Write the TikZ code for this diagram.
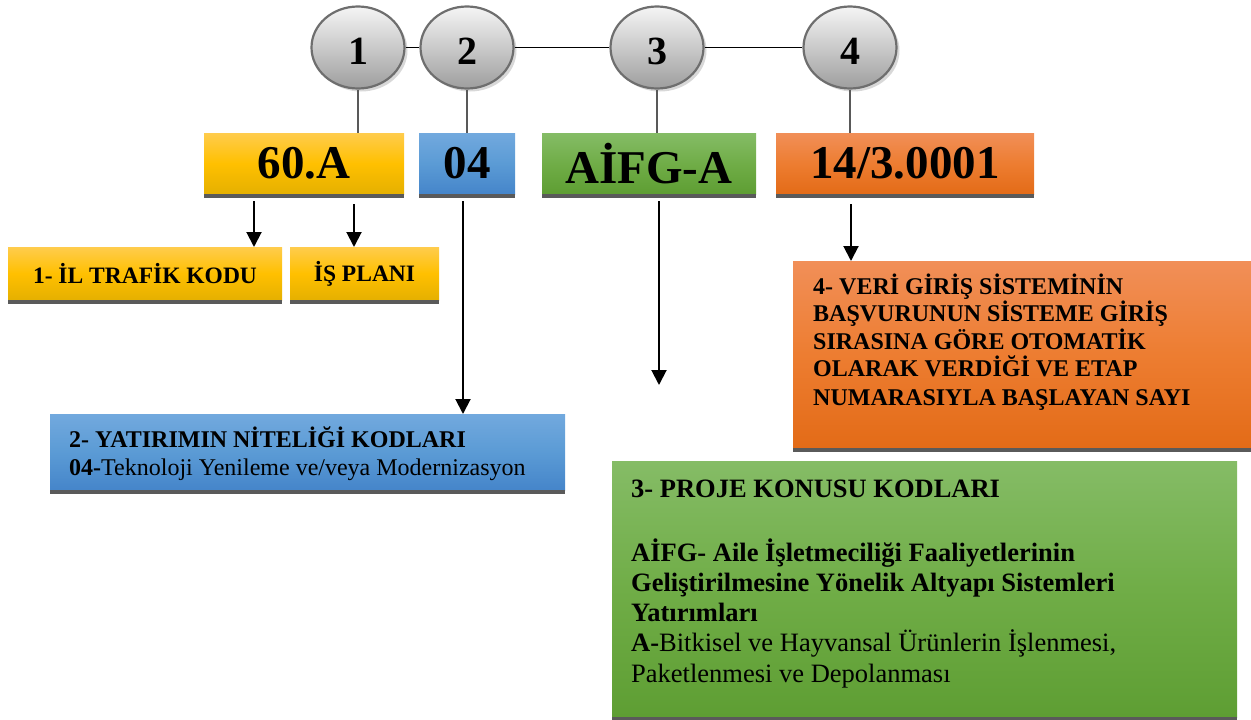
\documentclass[tikz,border=0pt]{standalone}
\usepackage{fontspec}
\setmainfont{Liberation Serif}
\usetikzlibrary{shapes.geometric,arrows.meta,shadows}
\definecolor{ytop}{HTML}{FFCC4D}
\definecolor{ymid}{HTML}{FFC000}
\definecolor{ybot}{HTML}{E5B000}
\definecolor{btop}{HTML}{72A9DE}
\definecolor{bmid}{HTML}{5B9BD5}
\definecolor{bbot}{HTML}{4585CA}
\definecolor{gtop}{HTML}{85BC66}
\definecolor{gmid}{HTML}{70AD47}
\definecolor{gbot}{HTML}{5E9E33}
\definecolor{otop}{HTML}{F18F58}
\definecolor{omid}{HTML}{ED7D31}
\definecolor{obot}{HTML}{E36B17}
\definecolor{shadowc}{HTML}{5A5A5A}
\definecolor{circb}{HTML}{6E6E6E}
\definecolor{vline}{HTML}{595959}
\newcommand\bigf{\fontsize{47}{50}\selectfont\bfseries}
\newcommand\midf{\fontsize{23.5}{27}\selectfont\bfseries}
\newcommand\orf{\fontsize{24}{27.5}\selectfont\bfseries}
\newcommand\grf{\fontsize{26.5}{30.5}\selectfont}
\newcommand\digf{\fontsize{40}{44}\selectfont\bfseries}
\tikzset{
  fbox/.style={rectangle, anchor=north west, inner sep=0pt, outer sep=0pt},
  yshd/.style={top color=ytop, bottom color=ybot, middle color=ymid},
  bshd/.style={top color=btop, bottom color=bbot, middle color=bmid},
  gshd/.style={top color=gtop, bottom color=gbot, middle color=gmid},
  oshd/.style={top color=otop, bottom color=obot, middle color=omid},
  num/.style={ellipse, minimum width=93pt, minimum height=82pt, inner sep=0pt,
    draw=circb, line width=2.2pt, top color=white!96!black, bottom color=black!38,
    font=\digf, text height=34pt, text depth=0pt,
    drop shadow={shadow xshift=3pt, shadow yshift=-3pt, fill=black!30, opacity=.5}},
  txt/.style={anchor=base west, inner sep=0pt},
  arr/.style={line width=2pt, -{Triangle[length=15pt,width=15pt]}},
  hline/.style={line width=1.2pt, black},
  vl/.style={line width=1.8pt, vline}
}
\begin{document}
\begin{tikzpicture}[x=1pt,y=-1pt]
\useasboundingbox (0,0) rectangle (1251,720);

% circles
\node[num] (c1) at (358,47.5) {1};
\node[num] (c2) at (467,47.5) {2};
\node[num] (c3) at (657,47.5) {3};
\node[num] (c4) at (850,47.5) {4};
\draw[hline] (c1) -- (c2);
\draw[hline] (c2) -- (c3);
\draw[hline] (c3) -- (c4);

% first row boxes
\node[fbox, yshd, minimum width=200pt, minimum height=61pt, font=\bigf] (b1) at (204,133) {60.A};
\node[fbox, bshd, minimum width=96pt, minimum height=61pt, font=\bigf] (b2) at (419,133) {04};
\node[fbox, gshd, minimum width=214pt, minimum height=61pt, font=\bigf] (b3) at (542,133) {AİFG-A};
\node[fbox, oshd, minimum width=258pt, minimum height=61pt, font=\bigf] (b4) at (776,133) {14/3.0001};

\draw[vl] (c1.south) -- (c1.south |- b1.north);
\draw[vl] (c2.south) -- (c2.south |- b2.north);
\draw[vl] (c3.south) -- (c3.south |- b3.north);
\draw[vl] (c4.south) -- (c4.south |- b4.north);

% second row boxes
\node[fbox, yshd, minimum width=274pt, minimum height=53pt, font=\midf] (l1) at (8,247) {1- İL TRAFİK KODU};
\node[fbox, yshd, minimum width=149pt, minimum height=53pt, font=\midf] (l2) at (290,247) {İŞ PLANI};
\node[fbox, bshd, minimum width=515pt, minimum height=76pt] (l3) at (50,414) {};
\node[fbox, oshd, minimum width=458pt, minimum height=187pt] (l4) at (793,261) {};
\node[fbox, gshd, minimum width=625pt, minimum height=256pt] (l5) at (612,461) {};

% shadows under boxes
\foreach \n in {b1,b2,b3,b4,l1,l2,l3,l4,l5}
  \fill[shadowc] (\n.south west) rectangle ([yshift=-3.5pt]\n.south east);

% arrows
\coordinate (s1) at (254,201);
\coordinate (s2) at (354,204);
\coordinate (s3) at (463,201);
\coordinate (s4) at (659,201);
\coordinate (e4) at (659,385);
\coordinate (s5) at (851,204);
\draw[arr] (s1) -- (s1 |- l1.north);
\draw[arr] (s2) -- (s2 |- l2.north);
\draw[arr] (s3) -- (s3 |- l3.north);
\draw[arr] (s4) -- (e4);
\draw[arr] (s5) -- (s5 |- l4.north);

% blue box text
\node[txt, font=\orf] (bt1) at (69,447) {2- YATIRIMIN NİTELİĞİ KODLARI};
\node[txt, font=\fontsize{24}{27.5}\selectfont] (bt2) at (69,475) {\textbf{04-}Teknoloji Yenileme ve/veya Modernizasyon};

% orange box text
\node[txt, font=\orf] (ot1) at (813,294) {4- VERİ GİRİŞ SİSTEMİNİN};
\node[txt, font=\orf] (ot2) at (813,321.5) {BAŞVURUNUN SİSTEME GİRİŞ};
\node[txt, font=\orf] (ot3) at (813,349) {SIRASINA GÖRE OTOMATİK};
\node[txt, font=\orf] (ot4) at (813,376.5) {OLARAK VERDİĞİ VE ETAP};
\node[txt, font=\orf] (ot5) at (813,405) {NUMARASIYLA BAŞLAYAN SAYI};

% green box text
\node[txt, font=\grf\bfseries] (gt1) at (631,497) {3- PROJE KONUSU KODLARI};
\node[txt, font=\grf\bfseries] (gt2) at (631,561) {AİFG- Aile İşletmeciliği Faaliyetlerinin};
\node[txt, font=\grf\bfseries] (gt3) at (631,591) {Geliştirilmesine Yönelik Altyapı Sistemleri};
\node[txt, font=\grf\bfseries] (gt4) at (631,621) {Yatırımları};
\node[txt, font=\grf] (gt5) at (631,651.5) {\textbf{A-}Bitkisel ve Hayvansal Ürünlerin İşlenmesi,};
\node[txt, font=\grf] (gt6) at (631,682) {Paketlenmesi ve Depolanması};
\end{tikzpicture}
\end{document}
